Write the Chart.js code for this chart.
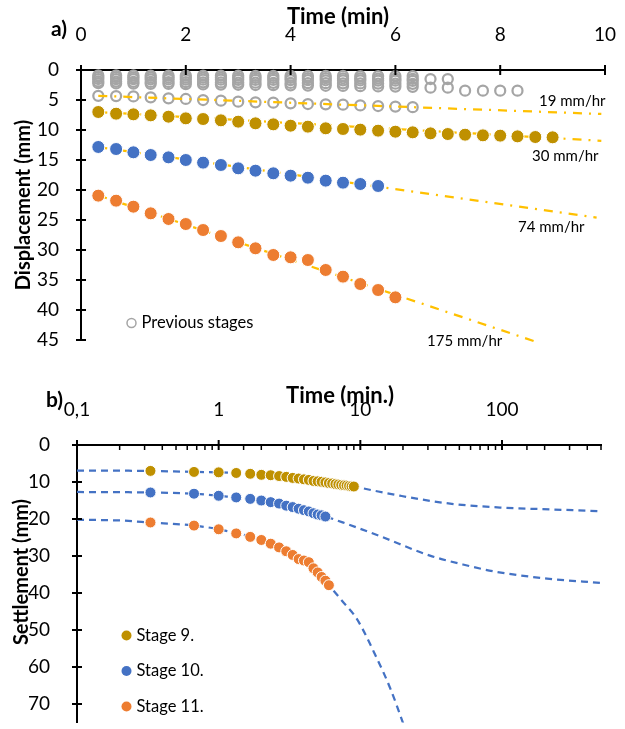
<!DOCTYPE html>
<html>
<head>
<meta charset="utf-8">
<script src="https://cdn.jsdelivr.net/npm/chart.js@4.4.1/dist/chart.umd.min.js"></script>
<style>
  html, body { margin: 0; padding: 0; background: #fff; overflow: hidden; }
  #wrapA { position: absolute; left: 0; top: 0; width: 625px; height: 360px; }
  #wrapB { position: absolute; left: 0; top: 360px; width: 625px; height: 369px; }
</style>
</head>
<body>
<div id="wrapA"><canvas id="chartA" width="625" height="360"></canvas></div>
<div id="wrapB"><canvas id="chartB" width="625" height="369"></canvas></div>
<script>
// ---- data ----
const timeMin = [0.33, 0.67, 1.0, 1.33, 1.67, 2.0, 2.33, 2.67, 3.0, 3.33, 3.67, 4.0, 4.33, 4.67,
  5.0, 5.33, 5.67, 6.0, 6.33, 6.67, 7.0, 7.33, 7.67, 8.0, 8.33, 8.67, 9.0];

const stage9 = [7.0, 7.28, 7.39, 7.56, 7.78, 8.06, 8.17, 8.39, 8.61, 8.89, 9.06, 9.28, 9.44, 9.72,
  9.83, 9.94, 10.11, 10.28, 10.39, 10.56, 10.67, 10.78, 10.89, 10.94, 11.06, 11.17, 11.22];
const stage10 = [12.83, 13.17, 13.72, 14.17, 14.56, 15.0, 15.44, 15.83, 16.39, 16.78, 17.22, 17.61,
  17.95, 18.44, 18.78, 19.0, 19.33];
const stage11 = [20.94, 21.78, 22.78, 23.89, 24.83, 25.67, 26.67, 27.67, 28.72, 29.72, 30.83, 31.22,
  31.67, 33.33, 34.44, 35.67, 36.67, 37.89];

// previous stages (grey open circles)
const prevA = [0.9, 0.9, 0.9, 0.92, 0.92, 0.93, 0.93, 0.95, 0.95, 0.96, 0.96, 0.97, 0.98, 0.98, 0.99, 1.0, 1.0, 1.0, 1.0];
const prevB = [1.2, 1.2, 1.22, 1.23, 1.25, 1.26, 1.27, 1.28, 1.3, 1.31, 1.32, 1.33, 1.35, 1.36, 1.38, 1.4, 1.42, 1.44, 1.46, 1.5, 1.52];
const prevC = [1.5, 1.52, 1.54, 1.56, 1.58, 1.6, 1.61, 1.62, 1.64, 1.65, 1.66, 1.68, 1.7, 1.71, 1.72, 1.74, 1.76, 1.78, 1.8];
const prevD = [1.9, 1.93, 1.96, 1.98, 2.0, 2.02, 2.05, 2.07, 2.1, 2.12, 2.14, 2.16, 2.18, 2.2, 2.22, 2.24, 2.26, 2.28, 2.3];
const prevE = [2.2, 2.24, 2.27, 2.3, 2.33, 2.36, 2.4, 2.43, 2.46, 2.5, 2.53, 2.56, 2.6, 2.63, 2.66, 2.7, 2.73, 2.76, 2.8,
  2.95, 2.95, 3.45, 3.45, 3.45, 3.45];
const prevStage8 = [4.3, 4.35, 4.4, 4.56, 4.72, 4.83, 5.0, 5.11, 5.28, 5.39, 5.44, 5.56, 5.67, 5.72, 5.78,
  5.9, 6.0, 6.1, 6.2];

// rate trend lines (end points)
const trendLabels = ['19 mm/hr', '30 mm/hr', '74 mm/hr', '175 mm/hr'];
const trendTime = [[0.33, 9.93], [0.33, 9.93], [0.33, 9.84], [0.33, 8.72]];
const trendDisp = [[4.3, 7.33], [7.0, 11.8], [12.87, 24.6], [20.9, 45.4]];

// fitted settlement curves (log time)
const fitTime9 = [0.1, 0.2, 0.33, 0.67, 1, 2, 3, 4, 5, 6, 7, 9, 12, 19, 43, 97, 218, 500];
const fit9 = [6.9, 6.95, 7.0, 7.28, 7.39, 8.06, 8.61, 9.28, 9.83, 10.28, 10.67, 11.22, 12.2, 13.7, 15.85, 16.9, 17.4, 17.9];
const fitTime10 = [0.1, 0.2, 0.33, 0.67, 1, 2, 3, 4, 5, 5.67, 8, 13.7, 31, 53, 92, 208, 500];
const fit10 = [12.7, 12.75, 12.83, 13.17, 13.72, 15.0, 16.39, 17.61, 18.78, 19.33, 21.3, 24.6, 29.9, 32.3, 34.3, 36.1, 37.3];
const fitTime11 = [0.1, 0.2, 0.33, 0.67, 1, 2, 3, 4, 5, 6, 7.5, 9.45, 13.1, 16.2, 20, 24];
const fit11 = [20.2, 20.4, 20.94, 21.78, 22.78, 25.67, 28.72, 31.22, 34.44, 37.89, 42.3, 47.0, 57.7, 65.6, 75.1, 84];

const dispTicks = { min: 0, max: 45, step: 5 };
const timeTicks = { min: 0, max: 10, step: 2 };
const settleTicks = { min: 0, max: 75, step: 10 };
const logTime = { min: 0.1, max: 500 };

// ---- helpers ----
const GOLD = '#BF9000', BLUE = '#4472C4', ORANGE = '#ED7D31', GREY = '#A5A5A5', YELLOW = '#FFC000';
const FONT = 'Lato, "Open Sans", sans-serif';
const XTITLE = 'bold 22px ' + FONT;
const YTITLE = 'bold 20px ' + FONT;
const TICK = 19;
Chart.defaults.font.family = FONT;
Chart.defaults.color = '#000';

function zip(xs, ys) {
  return ys.map((y, i) => ({ x: xs[i], y }));
}

function isDecade(v) {
  const l = Math.log10(v);
  return Math.abs(l - Math.round(l)) < 1e-6;
}

// keep the plot box exactly where the layout padding puts it
function fixX(h) {
  return s => { s.height = h; s.paddingLeft = 0; s.paddingRight = 0; };
}
function fixY(w) {
  return s => { s.width = w; s.paddingTop = 0; s.paddingBottom = 0; };
}

// tick marks that cross the axis lines
const crossTicks = {
  id: 'crossTicks',
  afterDraw(chart, args, opts) {
    const ctx = chart.ctx;
    const xs = chart.scales.x, ys = chart.scales.y;
    ctx.save();
    ctx.strokeStyle = '#000';
    ys.ticks.forEach(t => {
      const py = ys.getPixelForValue(t.value);
      ctx.lineWidth = 2;
      ctx.beginPath(); ctx.moveTo(ys.right - 5, py); ctx.lineTo(ys.right + 5, py); ctx.stroke();
    });
    xs.ticks.forEach(t => {
      const px = xs.getPixelForValue(t.value);
      const major = opts.log ? isDecade(t.value) : true;
      ctx.lineWidth = major ? 2 : 1.5;
      ctx.beginPath();
      ctx.moveTo(px, xs.bottom - (major ? 5 : 0));
      ctx.lineTo(px, xs.bottom + 5);
      ctx.stroke();
    });
    ctx.restore();
  }
};

// free text (titles, rate notes) and the small legends
const textLayer = {
  id: 'textLayer',
  afterDraw(chart, args, opts) {
    const ctx = chart.ctx;
    (opts.items || []).forEach(it => {
      ctx.save();
      ctx.font = it.font;
      ctx.fillStyle = '#000';
      ctx.textAlign = it.align || 'left';
      ctx.textBaseline = 'middle';
      ctx.translate(it.x, it.y);
      if (it.rotate) ctx.rotate(it.rotate);
      ctx.fillText(it.text, 0, 0);
      ctx.restore();
    });
    (opts.legend || []).forEach(it => {
      ctx.save();
      ctx.beginPath();
      ctx.arc(it.x, it.y, it.r, 0, Math.PI * 2);
      if (it.hollow) {
        ctx.strokeStyle = it.color; ctx.lineWidth = 1.5; ctx.stroke();
      } else {
        ctx.fillStyle = it.color; ctx.fill();
      }
      ctx.font = it.font;
      ctx.fillStyle = '#000';
      ctx.textAlign = 'left';
      ctx.textBaseline = 'middle';
      ctx.fillText(it.text, it.x + 10, it.y);
      ctx.restore();
    });
  }
};

function markerSet(label, xs, ys, color, radius) {
  return {
    label, data: zip(xs, ys), showLine: false, order: 1, clip: false,
    pointRadius: radius, pointBackgroundColor: color, pointBorderColor: '#fff', pointBorderWidth: 1
  };
}
function hollowSet(label, ys) {
  return {
    label, data: zip(timeMin, ys), showLine: false, order: 3, clip: false,
    pointRadius: 5, pointBackgroundColor: 'rgba(0,0,0,0)', pointBorderColor: GREY, pointBorderWidth: 2.25
  };
}

// ---- chart a) displacement vs time ----
const trendSets = trendLabels.map((lab, i) => ({
  label: lab, data: zip(trendTime[i], trendDisp[i]), showLine: true, order: 2, clip: false,
  borderColor: YELLOW, borderWidth: 2.25, borderDash: [9, 7, 2, 7], pointRadius: 0
}));

new Chart(document.getElementById('chartA'), {
  type: 'scatter',
  data: {
    datasets: [
      ...trendSets,
      hollowSet('prevA', prevA), hollowSet('prevB', prevB), hollowSet('prevC', prevC),
      hollowSet('prevD', prevD), hollowSet('prevE', prevE), hollowSet('Previous stages', prevStage8),
      markerSet('Stage 9.', timeMin, stage9, GOLD, 6.5),
      markerSet('Stage 10.', timeMin, stage10, BLUE, 6.5),
      markerSet('Stage 11.', timeMin, stage11, ORANGE, 6.5)
    ]
  },
  options: {
    responsive: false, animation: false, events: [],
    layout: { padding: { left: 0, right: 20, top: 0, bottom: 20 } },
    scales: {
      x: {
        type: 'linear', position: 'top', min: timeTicks.min, max: timeTicks.max, z: 1,
        ticks: { stepSize: timeTicks.step, padding: 15.5, font: { size: TICK }, maxRotation: 0 },
        grid: { display: false }, border: { display: true, color: '#000', width: 2 },
        afterFit: fixX(70)
      },
      y: {
        type: 'linear', reverse: true, min: dispTicks.min, max: dispTicks.max, z: 1,
        ticks: { stepSize: dispTicks.step, padding: 14, font: { size: TICK } },
        grid: { display: false }, border: { display: true, color: '#000', width: 2 },
        afterFit: fixY(81)
      }
    },
    plugins: {
      legend: { display: false }, tooltip: { enabled: false },
      crossTicks: { log: false },
      textLayer: {
        items: [
          { text: 'a)', x: 51, y: 29, font: 'bold 21px ' + FONT },
          { text: 'Time (min)', x: 338, y: 17, align: 'center', font: XTITLE },
          { text: 'Displacement (mm)', x: 24, y: 205, align: 'center', rotate: -Math.PI / 2, font: YTITLE },
          { text: trendLabels[0], x: 539, y: 101, font: '15px ' + FONT },
          { text: trendLabels[1], x: 532, y: 156, font: '15px ' + FONT },
          { text: trendLabels[2], x: 518, y: 227, font: '15px ' + FONT },
          { text: trendLabels[3], x: 427, y: 341, font: '15px ' + FONT }
        ],
        legend: [
          { text: 'Previous stages', x: 131.5, y: 323, r: 4.5, hollow: true, color: GREY, font: '16.5px ' + FONT }
        ]
      }
    }
  },
  plugins: [crossTicks, textLayer]
});

// ---- chart b) settlement vs log time ----
function fitSet(label, xs, ys) {
  return {
    label, data: zip(xs, ys), showLine: true, order: 2,
    borderColor: BLUE, borderWidth: 2.25, borderDash: [7, 5], pointRadius: 0,
    cubicInterpolationMode: 'monotone'
  };
}

new Chart(document.getElementById('chartB'), {
  type: 'scatter',
  data: {
    datasets: [
      fitSet('fit 9', fitTime9, fit9),
      fitSet('fit 10', fitTime10, fit10),
      fitSet('fit 11', fitTime11, fit11),
      markerSet('Stage 9.', timeMin, stage9, GOLD, 5.5),
      markerSet('Stage 10.', timeMin, stage10, BLUE, 5.5),
      markerSet('Stage 11.', timeMin, stage11, ORANGE, 5.5)
    ]
  },
  options: {
    responsive: false, animation: false, events: [],
    layout: { padding: { left: 0, right: 24, top: 0, bottom: 0 } },
    scales: {
      x: {
        type: 'logarithmic', position: 'top', min: logTime.min, max: logTime.max, z: 1,
        ticks: {
          autoSkip: false, maxRotation: 0, padding: 15.5, font: { size: TICK },
          callback: v => {
            if (!isDecade(v)) return '';
            const r = Math.round(v * 10) / 10;
            return r < 1 ? String(r).replace('.', ',') : String(r);
          }
        },
        grid: { display: false }, border: { display: true, color: '#000', width: 2 },
        afterFit: fixX(85)
      },
      y: {
        type: 'linear', reverse: true, min: settleTicks.min, max: settleTicks.max, z: 1,
        ticks: { stepSize: settleTicks.step, includeBounds: false, padding: 19, font: { size: TICK } },
        grid: { display: false }, border: { display: true, color: '#000', width: 2 },
        afterFit: fixY(77)
      }
    },
    plugins: {
      legend: { display: false }, tooltip: { enabled: false },
      crossTicks: { log: true },
      textLayer: {
        items: [
          { text: 'b)', x: 46, y: 40, font: 'bold 21px ' + FONT },
          { text: 'Time (min.)', x: 340, y: 36, align: 'center', font: XTITLE },
          { text: 'Settlement (mm)', x: 22, y: 212, align: 'center', rotate: -Math.PI / 2, font: YTITLE }
        ],
        legend: [
          { text: 'Stage 9.', x: 126.5, y: 275.5, r: 5, color: GOLD, font: '16.5px ' + FONT },
          { text: 'Stage 10.', x: 126.5, y: 311, r: 5, color: BLUE, font: '16.5px ' + FONT },
          { text: 'Stage 11.', x: 126.5, y: 346.5, r: 5, color: ORANGE, font: '16.5px ' + FONT }
        ]
      }
    }
  },
  plugins: [crossTicks, textLayer]
});
</script>
</body>
</html>
